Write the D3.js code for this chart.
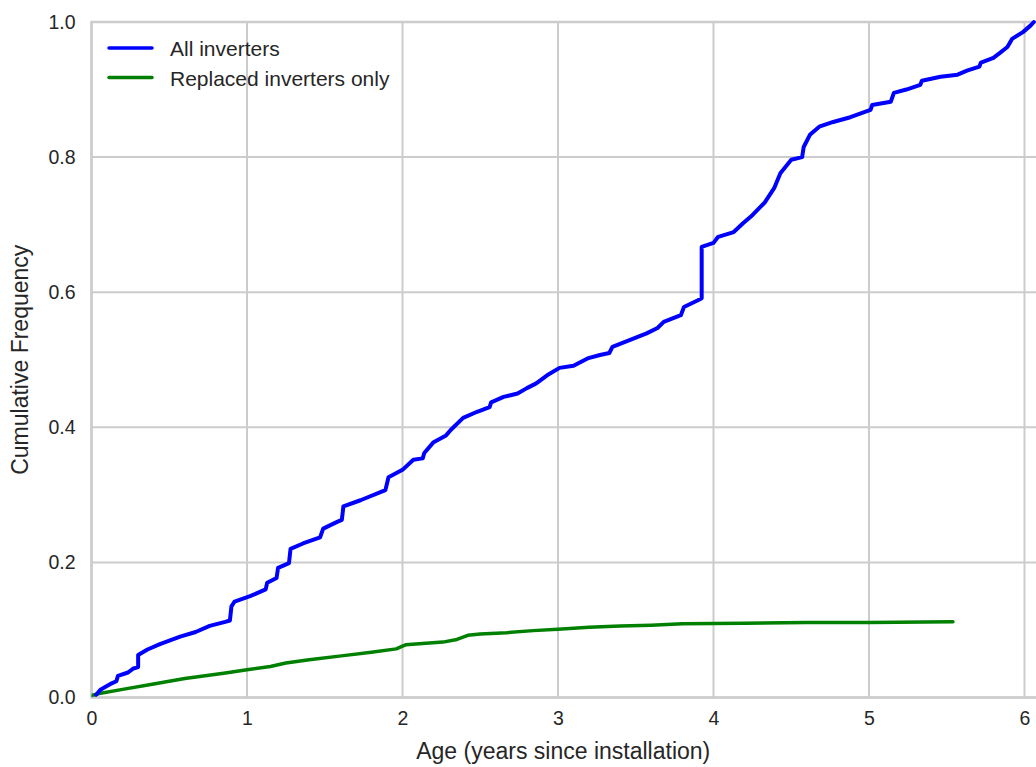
<!DOCTYPE html>
<html>
<head>
<meta charset="utf-8">
<script src="https://cdn.jsdelivr.net/npm/d3@7"></script>
<style>
  html, body { margin: 0; padding: 0; background: #fff; }
  svg { display: block; font-family: "Liberation Sans", Arial, sans-serif; }
</style>
</head>
<body>
<svg id="chart" width="1036" height="767"></svg>
<script>
// Cumulative frequency of inverter age, [years, fraction]
const allInverters = [
  [0.03,0.004],[0.06,0.012],[0.13,0.021],[0.16,0.024],[0.17,0.032],[0.235,0.037],[0.27,0.043],
  [0.30,0.045],[0.30,0.063],[0.36,0.071],[0.44,0.079],[0.57,0.090],[0.67,0.097],[0.76,0.106],
  [0.86,0.112],[0.89,0.114],[0.90,0.135],[0.92,0.142],[1.02,0.150],[1.12,0.160],[1.13,0.170],
  [1.19,0.177],[1.20,0.192],[1.27,0.199],[1.28,0.220],[1.36,0.228],[1.47,0.237],[1.49,0.250],
  [1.58,0.260],[1.61,0.263],[1.62,0.283],[1.73,0.292],[1.89,0.307],[1.91,0.326],[2.00,0.337],
  [2.07,0.352],[2.13,0.354],[2.14,0.362],[2.20,0.378],[2.28,0.388],[2.31,0.396],[2.39,0.414],
  [2.48,0.423],[2.56,0.430],[2.57,0.437],[2.65,0.445],[2.74,0.450],[2.80,0.458],[2.86,0.465],
  [2.93,0.477],[3.01,0.488],[3.10,0.491],[3.19,0.502],[3.27,0.507],[3.33,0.510],[3.35,0.519],
  [3.46,0.529],[3.57,0.539],[3.64,0.547],[3.68,0.556],[3.79,0.566],[3.81,0.578],[3.90,0.588],
  [3.924,0.591],[3.924,0.667],[4.00,0.673],[4.03,0.682],[4.13,0.689],[4.19,0.702],[4.25,0.714],
  [4.33,0.733],[4.39,0.754],[4.43,0.776],[4.50,0.796],[4.57,0.800],[4.58,0.815],[4.62,0.833],
  [4.68,0.845],[4.77,0.852],[4.88,0.859],[5.01,0.870],[5.02,0.877],[5.14,0.882],[5.16,0.895],
  [5.24,0.900],[5.33,0.907],[5.34,0.913],[5.46,0.919],[5.57,0.922],[5.63,0.928],[5.71,0.934],
  [5.72,0.940],[5.80,0.947],[5.84,0.954],[5.89,0.963],[5.92,0.975],[5.99,0.985],[6.04,0.995],
  [6.06,1.000]
];

const replacedOnly = [
  [0.00,0.003],[0.05,0.006],[0.20,0.012],[0.40,0.020],[0.60,0.028],[0.85,0.036],[1.00,0.041],
  [1.15,0.046],[1.25,0.051],[1.40,0.056],[1.62,0.062],[1.80,0.067],[1.96,0.072],[2.00,0.076],
  [2.02,0.078],[2.26,0.082],[2.35,0.086],[2.42,0.092],[2.50,0.094],[2.67,0.096],[2.84,0.099],
  [3.00,0.101],[3.20,0.104],[3.40,0.106],[3.60,0.107],[3.80,0.109],[4.20,0.110],[4.60,0.111],
  [5.00,0.111],[5.54,0.112]
];

const xTicks = [0, 1, 2, 3, 4, 5, 6];
const yTicks = [0.0, 0.2, 0.4, 0.6, 0.8, 1.0];
const seriesNames = ["All inverters", "Replaced inverters only"];
const seriesColors = ["#0000ff", "#008000"];

const svg = d3.select("#chart");
const plotLeft = 91.5, plotTop = 22, plotBottom = 697.5;
const pxPerYear = 155.5;
const xMax = 6.2;

const x = d3.scaleLinear().domain([0, xMax]).range([plotLeft, plotLeft + xMax * pxPerYear]);
const y = d3.scaleLinear().domain([0, 1]).range([plotBottom, plotTop]);

const gridColor = "#cccccc";
const textColor = "#262626";

// gridlines
svg.append("g").selectAll("line").data(xTicks).join("line")
  .attr("x1", d => x(d)).attr("x2", d => x(d))
  .attr("y1", plotTop).attr("y2", plotBottom)
  .attr("stroke", gridColor).attr("stroke-width", 2);
svg.append("g").selectAll("line").data(yTicks).join("line")
  .attr("x1", plotLeft).attr("x2", x(xMax))
  .attr("y1", d => y(d)).attr("y2", d => y(d))
  .attr("stroke", gridColor).attr("stroke-width", 2);

// spines
svg.append("rect")
  .attr("x", plotLeft).attr("y", plotTop)
  .attr("width", x(xMax) - plotLeft).attr("height", plotBottom - plotTop)
  .attr("fill", "none").attr("stroke", gridColor).attr("stroke-width", 2.5);

// axes (labels only, no tick marks)
const xAxis = svg.append("g")
  .attr("transform", `translate(0,${plotBottom})`)
  .call(d3.axisBottom(x).tickValues(xTicks).tickFormat(d3.format("d")).tickSize(0).tickPadding(14));
const yAxis = svg.append("g")
  .attr("transform", `translate(${plotLeft},0)`)
  .call(d3.axisLeft(y).tickValues(yTicks).tickFormat(d3.format(".1f")).tickSize(0).tickPadding(16));
[xAxis, yAxis].forEach(g => {
  g.select(".domain").remove();
  g.selectAll("text")
    .attr("fill", textColor)
    .style("font-size", "19.5px")
    .style("font-family", "'Liberation Sans', Arial, sans-serif");
});

// series lines
const line = d3.line().x(d => x(d[0])).y(d => y(d[1]));
svg.append("clipPath").attr("id", "plotclip")
  .append("rect").attr("x", plotLeft).attr("y", plotTop - 4)
  .attr("width", x(xMax) - plotLeft).attr("height", plotBottom - plotTop + 8);

[[replacedOnly, 1], [allInverters, 0]].forEach(([data, idx]) => {
  svg.append("path")
    .datum(data)
    .attr("clip-path", "url(#plotclip)")
    .attr("d", line)
    .attr("fill", "none")
    .attr("stroke", seriesColors[idx])
    .attr("stroke-width", idx === 0 ? 4 : 3.5)
    .attr("stroke-linejoin", "round")
    .attr("stroke-linecap", "round");
});

// legend
const legend = svg.append("g");
seriesNames.forEach((name, i) => {
  const ly = 48 + i * 29.5;
  legend.append("line")
    .attr("x1", 109).attr("x2", 152)
    .attr("y1", ly).attr("y2", ly)
    .attr("stroke", seriesColors[i]).attr("stroke-width", 3.5)
    .attr("stroke-linecap", "round");
  legend.append("text")
    .attr("x", 170).attr("y", ly + 8)
    .attr("fill", textColor)
    .style("font-size", "21px")
    .text(name);
});

// axis titles
svg.append("text")
  .attr("x", (plotLeft + 1036) / 2 - 0.5).attr("y", 759)
  .attr("text-anchor", "middle")
  .attr("fill", textColor)
  .style("font-size", "23px")
  .text("Age (years since installation)");

svg.append("text")
  .attr("transform", `translate(28,${(plotTop + plotBottom) / 2}) rotate(-90)`)
  .attr("text-anchor", "middle")
  .attr("fill", textColor)
  .style("font-size", "23px")
  .text("Cumulative Frequency");
</script>
</body>
</html>
